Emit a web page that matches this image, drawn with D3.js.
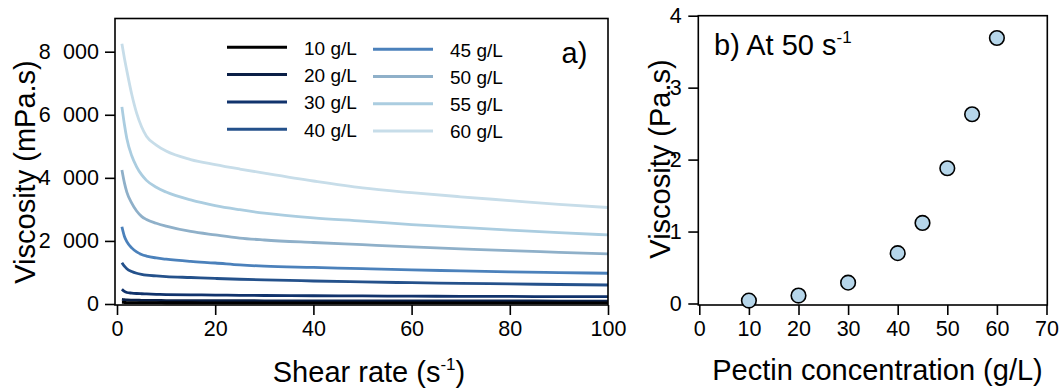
<!DOCTYPE html>
<html>
<head>
<meta charset="utf-8">
<script src="https://cdn.jsdelivr.net/npm/d3@7"></script>
<style>
  html, body { margin: 0; padding: 0; background: #ffffff; }
  svg { display: block; font-family: "Liberation Sans", Arial, sans-serif; }
</style>
</head>
<body>
<svg id="chart" width="1061" height="392"></svg>
<script>
// ---------------- data ----------------
const shearRates = [1, 1.5, 2, 3, 4, 5, 6, 8, 10, 15, 20, 25, 30, 40, 50, 60, 70, 80, 90, 100];
const seriesLabels = ["10 g/L", "20 g/L", "30 g/L", "40 g/L", "45 g/L", "50 g/L", "55 g/L", "60 g/L"];
const visc10 = [50, 48, 46, 44, 43, 42, 42, 41, 40, 39, 38, 38, 37, 37, 36, 36, 35, 35, 35, 34];
const visc20 = [150, 140, 132, 124, 120, 117, 115, 112, 110, 107, 105, 103, 102, 100, 98, 97, 96, 95, 94, 93];
const visc30 = [466, 400, 365, 345, 333, 325, 318, 308, 300, 290, 282, 276, 270, 262, 255, 249, 244, 239, 235, 231];
const visc40 = [1310, 1200, 1120, 1030, 975, 940, 915, 890, 870, 840, 810, 785, 765, 730, 700, 675, 655, 635, 618, 602];
const visc45 = [2450, 2150, 1980, 1780, 1650, 1570, 1520, 1460, 1420, 1350, 1300, 1240, 1200, 1160, 1120, 1080, 1050, 1020, 995, 975];
const visc50 = [4250, 3850, 3550, 3200, 2950, 2780, 2680, 2560, 2470, 2300, 2190, 2090, 2030, 1950, 1880, 1810, 1750, 1690, 1640, 1590];
const visc55 = [6250, 5700, 5250, 4700, 4350, 4100, 3920, 3700, 3550, 3300, 3120, 2990, 2880, 2730, 2630, 2520, 2430, 2340, 2260, 2190];
const visc60 = [8250, 7800, 7400, 6650, 6050, 5620, 5320, 5040, 4850, 4580, 4420, 4280, 4150, 3900, 3680, 3530, 3400, 3280, 3160, 3060];
const leftYTicks = [0, 2000, 4000, 6000, 8000];
const leftXTicks = [0, 20, 40, 60, 80, 100];

const pectinConc = [10, 20, 30, 40, 45, 50, 55, 60];
const viscAt50 = [0.04, 0.11, 0.29, 0.70, 1.12, 1.88, 2.63, 3.69];
const rightXTicks = [0, 10, 20, 30, 40, 50, 60, 70];
const rightYTicks = [0, 1, 2, 3, 4];

// ---------------- styles ----------------
const lineColors = ["#000000", "#0a1f46", "#11336c", "#24518b", "#4b81bb", "#8fb0c9", "#abcde0", "#c7dde9"];
const allSeries = [visc10, visc20, visc30, visc40, visc45, visc50, visc55, visc60];

const svg = d3.select("#chart");
const FONT_TICK = 21.5;

// ---------------- left panel ----------------
const L = { left: 115, right: 608, top: 18.5, bottom: 305 };
const xL = d3.scaleLinear().domain([0, 100]).range([117, 608]);
const yL = d3.scaleLinear().domain([0, 8000]).range([304, 51.7]);

const gL = svg.append("g");
const line = d3.line().x((d, i) => xL(shearRates[i])).y(d => yL(d)).curve(d3.curveMonotoneX);

const order = d3.range(allSeries.length).reverse();
gL.append("g").selectAll("path").data(order).join("path")
  .attr("d", k => line(allSeries[k]))
  .attr("fill", "none")
  .attr("stroke", k => lineColors[k])
  .attr("stroke-width", 2.8)
  .attr("stroke-linejoin", "round");

gL.append("rect")
  .attr("x", L.left).attr("y", L.top)
  .attr("width", L.right - L.left).attr("height", L.bottom - L.top)
  .attr("fill", "none").attr("stroke", "#000").attr("stroke-width", 1.6);

const fmt = v => d3.format(",")(v).replace(/,/g, " ");

const axBL = gL.append("g").attr("transform", `translate(0,${L.bottom})`)
  .call(d3.axisBottom(xL).tickValues(leftXTicks).tickSize(10).tickSizeOuter(0).tickPadding(6));
const axLL = gL.append("g").attr("transform", `translate(${L.left},0)`)
  .call(d3.axisLeft(yL).tickValues(leftYTicks).tickFormat(fmt).tickSize(10).tickSizeOuter(0).tickPadding(6));

// ---------------- right panel ----------------
const R = { left: 698.3, right: 1047.3, top: 15.7, bottom: 305 };
const xR = d3.scaleLinear().domain([0, 70]).range([699.3, 1046.5]);
const yR = d3.scaleLinear().domain([0, 4]).range([303.5, 15.7]);
const gR = svg.append("g");

gR.append("rect")
  .attr("x", R.left).attr("y", R.top)
  .attr("width", R.right - R.left).attr("height", R.bottom - R.top)
  .attr("fill", "none").attr("stroke", "#000").attr("stroke-width", 1.6);

const axBR = gR.append("g").attr("transform", `translate(0,${R.bottom})`)
  .call(d3.axisBottom(xR).tickValues(rightXTicks).tickSize(10).tickSizeOuter(0).tickPadding(6));
const axLR = gR.append("g").attr("transform", `translate(${R.left},0)`)
  .call(d3.axisLeft(yR).tickValues(rightYTicks).tickFormat(d3.format("d")).tickSize(10).tickSizeOuter(0).tickPadding(6.6));

gR.append("g").selectAll("circle").data(pectinConc).join("circle")
  .attr("cx", d => xR(d))
  .attr("cy", (d, i) => yR(viscAt50[i]))
  .attr("r", 7.3)
  .attr("fill", "#b6d6ea")
  .attr("stroke", "#000")
  .attr("stroke-width", 1.6);

// axis styling
[axBL, axLL, axBR, axLR].forEach(a => {
  a.select(".domain").remove();
  a.attr("font-size", null).attr("font-family", null);
  a.selectAll(".tick line").attr("stroke", "#000").attr("stroke-width", 1.6);
  a.selectAll(".tick text").attr("fill", "#000")
    .style("font-size", FONT_TICK + "px")
    .style("font-family", "'Liberation Sans', Arial, sans-serif");
});
axLL.selectAll(".tick text").style("word-spacing", "6.5px");

// ---------------- legend ----------------
const legend = svg.append("g");
seriesLabels.forEach((lab, i) => {
  const col = i < 4 ? 0 : 1;
  const row = i % 4;
  const x1 = col === 0 ? 227 : 373;
  const y = col === 0 ? 47.3 + row * 27.3 : 49.3 + row * 27.2;
  legend.append("line")
    .attr("x1", x1).attr("x2", x1 + 60).attr("y1", y).attr("y2", y)
    .attr("stroke", lineColors[i]).attr("stroke-width", 3);
  legend.append("text")
    .attr("x", x1 + 77).attr("y", y + 7.3)
    .style("font-size", "19px").attr("fill", "#000")
    .text(lab);
});

// ---------------- labels ----------------
svg.append("text").attr("x", 561.5).attr("y", 63)
  .style("font-size", "29px").text("a)");

const bl = svg.append("text").attr("x", 714).attr("y", 55).style("font-size", "29px");
bl.append("tspan").text("b) At 50 s");
bl.append("tspan").attr("dy", -12).style("font-size", "17px").text("-1");

const xtL = svg.append("text").attr("x", 369).attr("y", 381.7)
  .attr("text-anchor", "middle").style("font-size", "29px");
xtL.append("tspan").text("Shear rate (s");
xtL.append("tspan").attr("dy", -12).style("font-size", "17px").text("-1");
xtL.append("tspan").attr("dy", 12).text(")");

svg.append("text").attr("x", 877.5).attr("y", 380)
  .attr("text-anchor", "middle").style("font-size", "29px")
  .text("Pectin concentration (g/L)");

svg.append("text")
  .attr("transform", "translate(35,172) rotate(-90)")
  .attr("text-anchor", "middle").style("font-size", "29px")
  .text("Viscosity (mPa.s)");

svg.append("text")
  .attr("transform", "translate(670,159) rotate(-90)")
  .attr("text-anchor", "middle").style("font-size", "29px")
  .text("Viscosity (Pa.s)");
</script>
</body>
</html>
